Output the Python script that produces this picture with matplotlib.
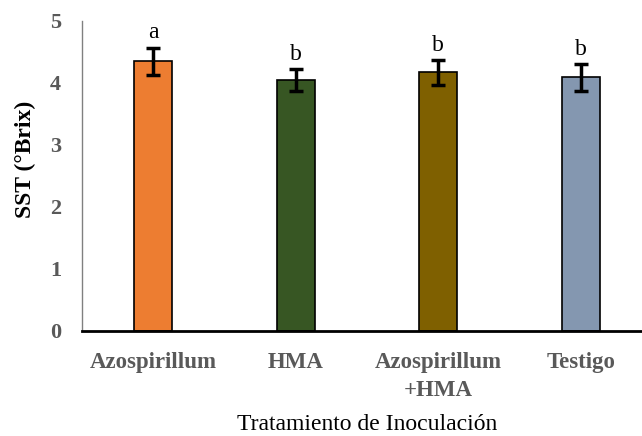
import matplotlib
matplotlib.use("Agg")
import matplotlib.pyplot as plt

tratamientos = ["Azospirillum", "HMA", "Azospirillum\n+HMA", "Testigo"]
sst = [4.35, 4.05, 4.17, 4.09]
error = [0.22, 0.18, 0.20, 0.22]
letras = ["a", "b", "b", "b"]
colores = ["#ED7D31", "#375623", "#7F6000", "#8497B0"]

plt.rcParams["font.family"] = ["Liberation Serif", "DejaVu Serif"]

fig = plt.figure(figsize=(6.42, 4.36), dpi=100)
ax = fig.add_axes([82 / 642, 1 - 331 / 436, 570 / 642, 310 / 436])

x = range(len(tratamientos))
ax.bar(x, sst, width=0.27, color=colores, edgecolor="black", linewidth=1.2, zorder=2)
ax.errorbar(x, sst, yerr=error, fmt="none", ecolor="black", elinewidth=2.5,
            capsize=5, capthick=2.5, zorder=3)

for i in x:
    ax.annotate(letras[i], (i, sst[i] + error[i]), xytext=(0, 3),
                textcoords="offset points", ha="center", va="bottom", fontsize=17)

ax.set_xlim(-0.5, 3.5)
ax.set_ylim(0, 5)
ax.set_yticks([0, 1, 2, 3, 4, 5])
ax.set_xticks(list(x))
ax.set_xticklabels(tratamientos, fontsize=16.5, fontweight="bold", color="#595959",
                   linespacing=1.45)
for lab in ax.get_yticklabels():
    lab.set_fontsize(16)
    lab.set_fontweight("bold")
    lab.set_color("#595959")
ax.tick_params(axis="both", length=0)
ax.tick_params(axis="y", pad=15)
ax.tick_params(axis="x", pad=15)

ax.spines["top"].set_visible(False)
ax.spines["right"].set_visible(False)
ax.spines["left"].set_color("#808080")
ax.spines["left"].set_linewidth(1)
ax.spines["bottom"].set_color("black")
ax.spines["bottom"].set_linewidth(2)

ax.set_ylabel("SST (°Brix)", fontsize=17, fontweight="bold")
ax.yaxis.set_label_coords(-0.08, 0.555)
ax.set_xlabel("Tratamiento de Inoculación", fontsize=17, labelpad=9.5)

fig.savefig("out.png", dpi=100)
